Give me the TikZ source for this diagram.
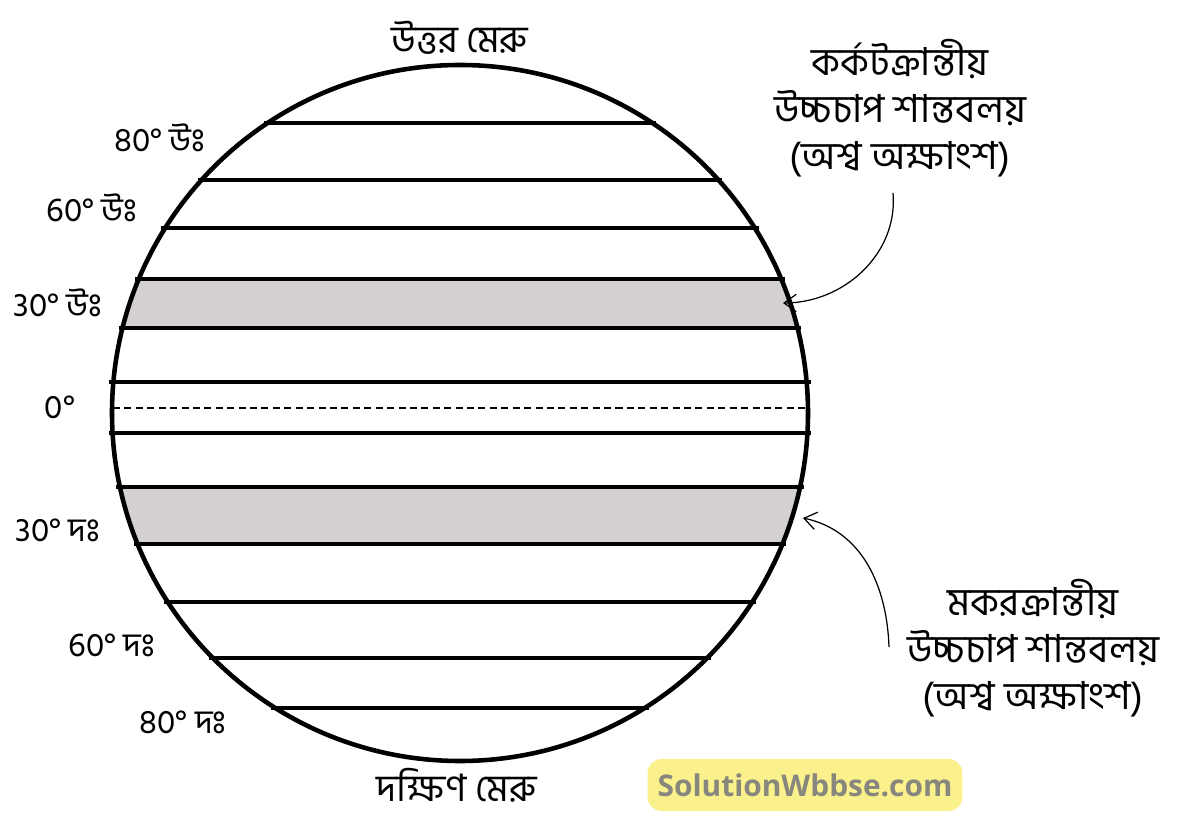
\documentclass[tikz,border=0pt]{standalone}
\usepackage{fontspec}
\setmainfont{Hind Siliguri}[Script=Bengali]
\newfontfamily\sitefont{Open Sans}
\usetikzlibrary{arrows.meta,positioning}
\definecolor{bandgray}{RGB}{212,208,208}
\definecolor{siteyellow}{RGB}{250,241,140}
\definecolor{sitegray}{RGB}{135,135,125}

\begin{document}
\begin{tikzpicture}[x=0.02cm, y=0.02cm]

  \tikzstyle{globe} = [line width=2.6pt]
  \tikzstyle{lat} = [line width=2.7pt]
  \tikzstyle{equator} = [line width=0.9pt, dash pattern=on 4pt off 2.5pt]
  \tikzstyle{deg} = [font=\fontsize{19}{22}\selectfont]
  \tikzstyle{pole} = [font=\fontsize{21.5}{25}\selectfont, inner sep=1pt]
  \tikzstyle{belt} = [align=center, font=\fontsize{22}{26.6}\selectfont]
  \tikzstyle{pointer} = [line width=0.7pt, -{Straight Barb[length=7pt, width=10pt]}]
  \tikzstyle{site} = [fill=siteyellow, rounded corners=8pt, minimum width=6.3cm,
    minimum height=1.04cm, text=sitegray, font=\sitefont\bfseries\fontsize{17}{20}\selectfont]

    \useasboundingbox (0,0) rectangle (1200,822);
    \coordinate (c) at (460,409);

    \begin{scope}
      \clip (c) circle [radius=348];
      \fill[bandgray] (100,494) rectangle (820,543);
      \fill[bandgray] (100,278) rectangle (820,335);
    \end{scope}

    \foreach \yy in {699,642,594,543,494,440,389,335,278,220,164,114} {
      \pgfmathsetmacro\hw{100*sqrt(3.48^2-((\yy-409)/100)^2)+4}
      \draw[lat] (460-\hw,\yy) -- (460+\hw,\yy);
    }
    \draw[equator] (113,414) -- (807,414);
    \draw[globe] (c) circle [radius=348];

    \node[pole] (north) at (460,784) {উত্তর মেরু};
    \node[pole] (south) at (457,37) {দক্ষিণ মেরু};

    \node[deg] (n80) at (160,684) {80° উঃ};
    \node[deg] (n60) at (92,614) {60° উঃ};
    \node[deg] (n30) at (58,519) {30° উঃ};
    \node[deg] (eq) at (60,415) {0°};
    \node[deg] (s30) at (58,292) {30° দঃ};
    \node[deg] (s60) at (112,177) {60° দঃ};
    \node[deg] (s80) at (183,100) {80° দঃ};

    \node[belt] (cancer) at (900,714) {কর্কটক্রান্তীয়\\উচ্চচাপ শান্তবলয়\\(অশ্ব অক্ষাংশ)};
    \node[belt] (capri) at (1033,174) {মকরক্রান্তীয়\\উচ্চচাপ শান্তবলয়\\(অশ্ব অক্ষাংশ)};

    \coordinate (cancerfoot) at (893,629);
    \coordinate (cancertip) at (783,519);
    \coordinate (caprifoot) at (889,175);
    \coordinate (capritip) at (803,304);
    \draw[pointer] (cancerfoot) to[out=-85, in=0] (cancertip);
    \draw[pointer] (caprifoot) to[out=92, in=-12] (capritip);

    \node[site] (webname) at (805,37) {SolutionWbbse.com};
\end{tikzpicture}
\end{document}
